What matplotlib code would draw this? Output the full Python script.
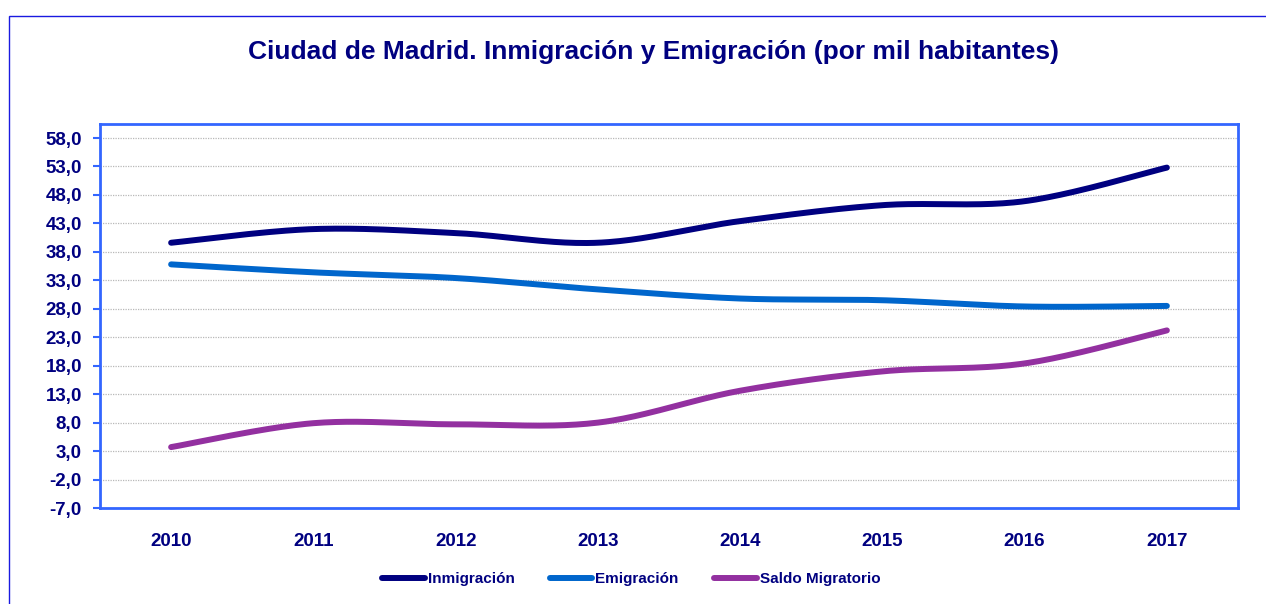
import numpy as np
import matplotlib
matplotlib.use("Agg")
import matplotlib.pyplot as plt
from matplotlib.patches import Rectangle

years = ["2010", "2011", "2012", "2013", "2014", "2015", "2016", "2017"]
inmigracion = [39.6, 42.0, 41.3, 39.6, 43.4, 46.2, 46.9, 52.8]
emigracion = [35.8, 34.4, 33.4, 31.4, 29.8, 29.5, 28.4, 28.5]
saldo = [3.7, 7.9, 7.7, 8.0, 13.6, 17.0, 18.4, 24.2]
yticks = [-7, -2, 3, 8, 13, 18, 23, 28, 33, 38, 43, 48, 53, 58]

NAVY = "#000080"
plt.rcParams['font.family'] = ['Liberation Sans', 'DejaVu Sans']


def smooth(xs, ys, n=40):
    p = np.column_stack([xs, ys]).astype(float)
    ext = np.vstack([p[0], p, p[-1]])
    out = []
    for i in range(len(p) - 1):
        p0, p1, p2, p3 = ext[i], ext[i + 1], ext[i + 2], ext[i + 3]
        c1 = p1 + (p2 - p0) / 6.0
        c2 = p2 - (p3 - p1) / 6.0
        t = np.linspace(0, 1, n)[:, None]
        seg = ((1 - t) ** 3) * p1 + 3 * ((1 - t) ** 2) * t * c1 + 3 * (1 - t) * t ** 2 * c2 + t ** 3 * p2
        out.append(seg if i == 0 else seg[1:])
    s = np.vstack(out)
    return s[:, 0], s[:, 1]


fig = plt.figure(figsize=(12.66, 6.04), dpi=100)
ax = fig.add_axes([100 / 1266, 1 - 508 / 604, 1138 / 1266, 384 / 604])

# outer chart frame (cropped on right and bottom)
fig.patches.append(Rectangle((8.5 / 1266, -0.1), 1.2, 1 - 15.5 / 604 + 0.1,
                             transform=fig.transFigure, fill=False,
                             edgecolor="#1a1ae0", linewidth=1.0))

x = np.arange(len(years))
series = [(inmigracion, NAVY, "Inmigración"),
          (emigracion, "#0066CC", "Emigración"),
          (saldo, "#9330A0", "Saldo Migratorio")]
for vals, col, lab in series:
    sx, sy = smooth(x, vals)
    ax.plot(sx, sy, color=col, linewidth=4.3, solid_capstyle='round',
            solid_joinstyle='round', label=lab)

ax.set_xlim(-0.5, len(years) - 0.5)
ax.set_ylim(-7, 60.46)
ax.set_yticks(yticks)
ax.set_yticklabels([f"{v:.1f}".replace(".", ",") for v in yticks])
ax.set_xticks(x)
ax.set_xticklabels(years)

for lbl in ax.get_yticklabels() + ax.get_xticklabels():
    lbl.set_fontweight('bold')
    lbl.set_color(NAVY)
    lbl.set_fontsize(13.5)

ax.tick_params(axis='y', length=5, width=1.5, color="#3366FF", pad=8, direction='out')
ax.tick_params(axis='x', length=0, pad=18)
ax.grid(axis='y', color="#b8b8b8", linestyle=(0, (1, 1)), linewidth=0.9)
ax.set_axisbelow(True)
for sp in ax.spines.values():
    sp.set_color("#3366FF")
    sp.set_linewidth(2)

fig.text(0.516, 1 - 52 / 604, "Ciudad de Madrid. Inmigración y Emigración (por mil habitantes)",
         ha='center', va='center', fontsize=19, fontweight='bold', color=NAVY)

leg = fig.legend(loc='center', bbox_to_anchor=(0.4985, 1 - 579 / 604), ncol=3, frameon=False,
                 handlelength=2.8, handletextpad=0.2, columnspacing=2.3,
                 prop={'weight': 'bold', 'size': 11})
for t in leg.get_texts():
    t.set_color(NAVY)

fig.savefig("out.png", dpi=100)
